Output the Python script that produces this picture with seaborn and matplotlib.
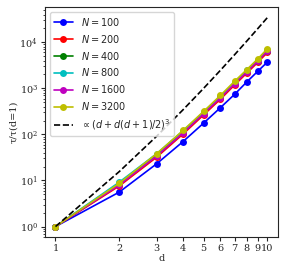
import numpy as np
import pandas as pd
import matplotlib
matplotlib.use("Agg")
import matplotlib.pyplot as plt
from matplotlib.ticker import FixedLocator, FixedFormatter, NullLocator
import seaborn as sns

# data: relative time tau/tau(d=1) vs d for several N
d = [1, 2, 3, 4, 5, 6, 7, 8, 9, 10]
N_values = [100, 200, 400, 800, 1600, 3200]
colors = ["b", "r", "g", "c", "m", "y"]

tau_100 = [1, 5.6, 23, 70, 176, 380, 740, 1380, 2340, 3720]
tau_200 = [1, 7.6, 32, 102, 265, 580, 1180, 2150, 3650, 6000]
tau_400 = [1, 8.4, 35, 112, 290, 640, 1300, 2350, 4000, 6600]
tau_800 = [1, 9.2, 38, 120, 305, 670, 1360, 2450, 4150, 6900]
tau_1600 = [1, 8.0, 34, 108, 282, 620, 1260, 2280, 3900, 6450]
tau_3200 = [1, 8.7, 38, 122, 316, 700, 1420, 2560, 4330, 7250]

all_tau = [tau_100, tau_200, tau_400, tau_800, tau_1600, tau_3200]

# reference scaling, normalised to 1 at d=1
d_ref = np.array(d, dtype=float)
ref = (d_ref + d_ref * (d_ref + 1) / 2) ** 3
ref = ref / ref[0]

sns.set_style("ticks")
plt.rcParams["font.family"] = "serif"
plt.rcParams["font.size"] = 7

fig, ax = plt.subplots(figsize=(2.86, 2.74), dpi=100)
fig.subplots_adjust(left=0.157, right=0.972, top=0.974, bottom=0.135)

for n, c, tau in zip(N_values, colors, all_tau):
    df = pd.DataFrame({"d": d, "tau": tau})
    sns.lineplot(
        data=df, x="d", y="tau", ax=ax,
        color=c, marker="o", markersize=5, markeredgewidth=0,
        linewidth=1.2, label=f"$N = {n}$"
    )

df_ref = pd.DataFrame({"d": d_ref, "tau": ref})
sns.lineplot(
    data=df_ref, x="d", y="tau", ax=ax,
    color="k", linestyle="--", linewidth=1.2,
    label=r"$\propto (d+d(d+1)/2)^3$"
)

ax.set_xscale("log")
ax.set_yscale("log")
ax.xaxis.set_major_locator(FixedLocator(d))
ax.xaxis.set_major_formatter(FixedFormatter([str(v) for v in d]))
ax.xaxis.set_minor_locator(NullLocator())

ax.tick_params(axis="both", which="major", length=3, pad=2, labelsize=7)
ax.tick_params(axis="y", which="minor", length=1.8)
ax.set_xlabel("d", labelpad=1, fontsize=7)
ax.set_ylabel("τ/τ(d=1)", labelpad=1, fontsize=7)

for s in ax.spines.values():
    s.set_linewidth(0.8)

ax.legend(loc="upper left", fontsize=7, frameon=True, handlelength=2)

plt.savefig("out.png", dpi=100)
